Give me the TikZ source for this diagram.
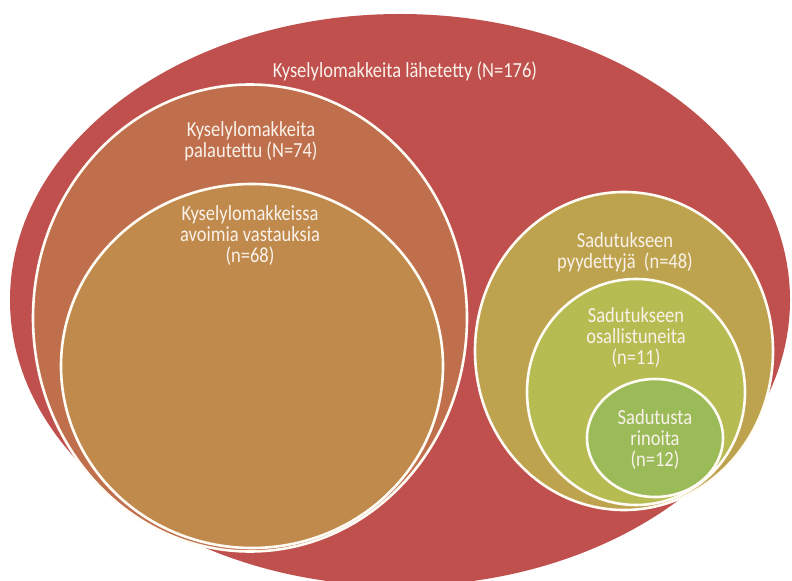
\documentclass[tikz,border=0pt]{standalone}
\usepackage{fontspec}
\setmainfont{Carlito}
\newfontfamily\lblfont[FakeStretch=0.86]{Carlito}
\usetikzlibrary{shapes.geometric}
\definecolor{cRed}{RGB}{192,80,77}
\definecolor{cPal}{RGB}{192,111,77}
\definecolor{cAvo}{RGB}{192,138,77}
\definecolor{cPyy}{RGB}{190,163,78}
\definecolor{cOsa}{RGB}{182,188,82}
\definecolor{cRin}{RGB}{155,187,89}
\definecolor{cLine}{RGB}{255,252,245}
\definecolor{cText}{RGB}{250,242,234}
\tikzset{
  ring/.style={ellipse, inner sep=0pt, outer sep=0pt, draw=cLine, line width=2.6bp},
  lbl/.style={text=cText, align=center, inner sep=0pt,
    font=\lblfont\fontsize{21.5bp}{21bp}\selectfont}
}
\begin{document}
\begin{tikzpicture}[x=1bp,y=-1bp]
\useasboundingbox (0,0) rectangle (792,581);
\clip (0,0) rectangle (792,581);
% outer
\node[ring, draw=none, fill=cRed, minimum width=780bp, minimum height=572bp] (sent) at (400,300) {};
% left group
\node[ring, fill=cPal, minimum width=434bp, minimum height=467bp] (returned) at (250,318) {};
\node[ring, fill=cAvo, minimum width=382bp, minimum height=364bp] (open) at (252,366) {};
% right group
\node[ring, fill=cPyy, minimum width=298bp, minimum height=318bp] (asked) at (624,351) {};
\node[ring, fill=cOsa, minimum width=218bp, minimum height=226bp] (joined) at (636,392) {};
\node[ring, fill=cRin, minimum width=136bp, minimum height=118bp] (rhymes) at (655,438) {};
% labels
\node[lbl] (tSent) at (405,71) {Kyselylomakkeita lähetetty (N=176)};
\node[lbl] (tReturned) at (251,141) {Kyselylomakkeita\\palautettu (N=74)};
\node[lbl] (tOpen) at (250,236) {Kyselylomakkeissa\\avoimia vastauksia\\(n=68)};
\node[lbl] (tAsked) at (625,252) {Sadutukseen\\pyydettyjä~~(n=48)};
\node[lbl] (tJoined) at (636,338) {Sadutukseen\\osallistuneita\\(n=11)};
\node[lbl] (tRhymes) at (655,440) {Sadutusta\\rinoita\\(n=12)};
\end{tikzpicture}
\end{document}
